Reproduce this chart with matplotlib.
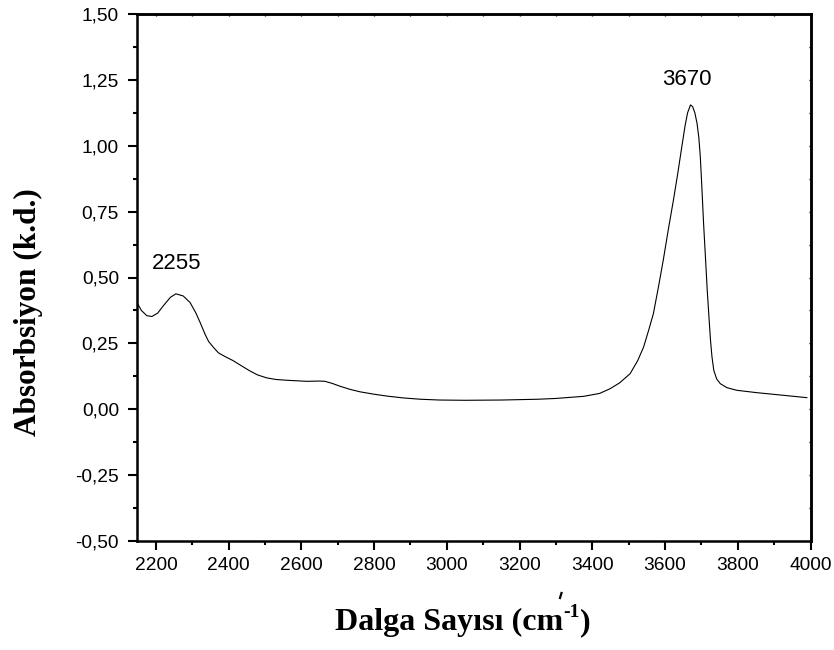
import matplotlib
matplotlib.use("Agg")
import matplotlib.pyplot as plt
from matplotlib.lines import Line2D
from matplotlib.ticker import MultipleLocator, FuncFormatter

# IR absorbance spectrum
wavenumber = [2148, 2160, 2175, 2189, 2205, 2220, 2240, 2255, 2275, 2294,
              2310, 2322, 2335, 2345, 2360, 2372, 2390, 2413, 2435, 2459,
              2480, 2505, 2530, 2560, 2615, 2650, 2665, 2685, 2707, 2735,
              2762, 2800, 2835, 2880, 2927, 2980, 3050, 3150, 3250, 3300,
              3376, 3420, 3449, 3475, 3504, 3525, 3541, 3555, 3568, 3582,
              3595, 3610, 3623, 3635, 3646, 3655, 3662, 3670, 3676, 3682,
              3688, 3693, 3697, 3701, 3706, 3711, 3716, 3721, 3725, 3729,
              3734, 3742, 3752, 3770, 3797, 3852, 3925, 3990]
absorbance = [0.405, 0.375, 0.355, 0.352, 0.365, 0.392, 0.425, 0.438, 0.430, 0.405,
              0.365, 0.328, 0.285, 0.257, 0.232, 0.214, 0.200, 0.184, 0.165, 0.145,
              0.130, 0.119, 0.113, 0.110, 0.106, 0.107, 0.106, 0.098, 0.087, 0.075,
              0.066, 0.057, 0.050, 0.043, 0.038, 0.035, 0.034, 0.035, 0.038, 0.041,
              0.049, 0.060, 0.078, 0.100, 0.135, 0.185, 0.236, 0.300, 0.363, 0.465,
              0.565, 0.690, 0.793, 0.895, 0.995, 1.075, 1.125, 1.155, 1.148, 1.125,
              1.085, 1.030, 0.958, 0.850, 0.705, 0.580, 0.452, 0.345, 0.262, 0.200,
              0.148, 0.115, 0.097, 0.082, 0.072, 0.063, 0.053, 0.044]

peak_labels = [2255, 3670]
peak_offsets = [(0.7, 21.5), (-2.7, 18.0)]

x_min, x_max = 2148, 4000
y_min, y_max = -0.5, 1.5

W, H = 834, 650
fig = plt.figure(figsize=(W / 100, H / 100), dpi=100)
ax = fig.add_axes([137 / W, 1 - 541 / H, (810.5 - 137) / W, (541 - 14) / H])

ax.plot(wavenumber, absorbance, color="black", lw=0.8)

for pk, (dx, dy) in zip(peak_labels, peak_offsets):
    i = wavenumber.index(pk)
    ax.annotate(str(pk), xy=(pk, absorbance[i]), xytext=(dx, dy),
                textcoords="offset points", ha="center", va="center",
                fontsize=16, family="Liberation Sans")

ax.set_xlim(x_min, x_max)
ax.set_ylim(y_min, y_max)

ax.xaxis.set_major_locator(MultipleLocator(200))
ax.xaxis.set_minor_locator(MultipleLocator(100))
ax.yaxis.set_major_locator(MultipleLocator(0.25))
ax.yaxis.set_minor_locator(MultipleLocator(0.125))
ax.yaxis.set_major_formatter(FuncFormatter(lambda v, p: f"{v:.2f}".replace(".", ",")))

for s in ax.spines.values():
    s.set_linewidth(1.8)

ax.tick_params(which="major", direction="out", length=6.5, width=1.5,
               labelsize=13.8, top=False, right=False)
ax.tick_params(which="minor", direction="out", length=3.2, width=1.5,
               top=False, right=False)
ax.tick_params(axis="x", which="major", pad=5.0)
ax.tick_params(axis="y", which="major", pad=6.5)
for lbl in ax.get_xticklabels() + ax.get_yticklabels():
    lbl.set_family("Liberation Sans")

# short inward ticks on the top and right frame
ax_top = ax.secondary_xaxis("top")
ax_top.xaxis.set_major_locator(MultipleLocator(100))
ax_top.tick_params(direction="in", length=1.5, width=1.0, labeltop=False)
ax_top.spines["top"].set_linewidth(1.8)
ax_right = ax.secondary_yaxis("right")
ax_right.yaxis.set_major_locator(MultipleLocator(0.125))
ax_right.tick_params(direction="in", length=1.5, width=1.0, labelright=False)
ax_right.spines["right"].set_linewidth(1.8)

# axis titles
label_font = dict(family="Liberation Serif", fontweight="bold")
fig.text(28 / W, 1 - 312 / H, "Absorbsiyon (k.d.)", rotation=90,
         ha="center", va="center", fontsize=22.5, **label_font)

# x title assembled from pieces so the exponent sits as a raised "-1"
renderer = fig.canvas.get_renderer()
base_y = 1 - 630 / H
parts = [("Dalga Sayısı (cm", 23, 0.0), ("-1", 14, 13.0), (")", 23, 0.0)]
widths = []
for txt, size, _ in parts:
    t = fig.text(0, 0, txt, fontsize=size, **label_font)
    widths.append(t.get_window_extent(renderer).width)
    t.remove()
x_px = 463 - sum(widths) / 2
for (txt, size, rise), w in zip(parts, widths):
    fig.text(x_px / W, base_y + rise / H, txt, fontsize=size, va="baseline",
             ha="left", **label_font)
    x_px += w

# small stray stroke above the x title
fig.add_artist(Line2D([560.0 / W, 561.5 / W], [1 - 598 / H, 1 - 593 / H],
                      transform=fig.transFigure, color="black", lw=1.6))

fig.savefig("out.png", dpi=100)
